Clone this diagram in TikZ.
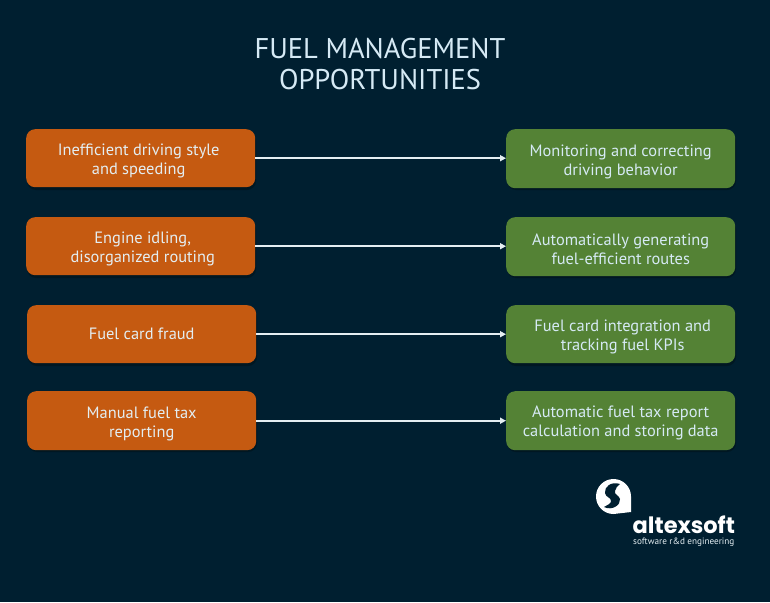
\documentclass[tikz,border=0pt]{standalone}
\usepackage{fontspec}
\setmainfont{PT Sans}
\newfontfamily\logofont{Poppins}
\usetikzlibrary{arrows.meta}
\definecolor{bgc}{HTML}{001F30}
\definecolor{orangebox}{HTML}{C55A11}
\definecolor{greenbox}{HTML}{548235}
\definecolor{shadowc}{HTML}{001722}
\definecolor{txtc}{HTML}{E4EEF2}
\definecolor{titlec}{HTML}{D6EAF5}
\newcommand{\lft}{\rule{0pt}{17.5pt}}
\newcommand{\lfts}{\rule{0pt}{16pt}}
\newcommand{\ndg}{\hspace*{4pt}}
\tikzset{
  x=1pt,y=-1pt,
  card/.style={minimum width=229pt,minimum height=58pt,rounded corners=9pt,inner sep=0pt,align=center,
    text=txtc,font=\fontsize{16.4}{19}\selectfont,anchor=north west},
  oppo/.style={card,fill=orangebox},
  solu/.style={card,fill=greenbox,text=titlec},
  flow/.style={draw=txtc,line width=1.7pt,-{Triangle[length=6pt,width=6pt]}},
  shade/.style={fill=shadowc,rounded corners=9pt},
}
\begin{document}
\begin{tikzpicture}
\useasboundingbox (0,0) rectangle (770,602);
\fill[bgc] (0,0) rectangle (770,602);
\node[text=titlec,align=center,font=\fontsize{28.5}{31}\selectfont] (title) at (380,64) {FUEL MANAGEMENT\\OPPORTUNITIES};
% shadows
\foreach \x/\y in {26/129,26/217,27/305,27/391,506/129,506/217,506/305,506/391}
  \fill[shade] (\x+1,\y+3) rectangle ++(229,58);
\node[oppo] (a1) at (26,129) {\lft Inefficient driving style\ndg\\and speeding\ndg};
\node[oppo] (a2) at (26,217) {\lft\ndg Engine idling,\\\ndg disorganized routing};
\node[oppo] (a3) at (27,305) {Fuel card fraud};
\node[oppo,minimum height=59pt] (a4) at (27,391) {\lft Manual fuel tax\\reporting};
\node[solu,minimum height=59pt] (b1) at (506,129) {\lft Monitoring and correcting\\driving behavior};
\node[solu,minimum height=59pt] (b2) at (506,217) {\lfts Automatically generating\\fuel-efficient routes};
\node[solu] (b3) at (506,305) {\lft\ndg Fuel card integration and\\\ndg tracking fuel KPIs};
\node[solu,minimum height=59pt] (b4) at (506,391) {\lfts Automatic fuel tax report\\calculation and storing data};
\draw[flow] (a1.east) -- (a1.east -| b1.west);
\draw[flow] (a2.east) -- (a2.east -| b2.west);
\draw[flow] (a3.east) -- (a3.east -| b3.west);
\draw[flow] (a4.east) -- (a4.east -| b4.west);
% logo
\fill[white] (631,512) -- (631,496.5) arc[start angle=0,end angle=-270,radius=17.5] -- cycle;
\fill[bgc] (620,484) .. controls (611,481) and (604,487) .. (605,493)
  .. controls (606,498) and (611,497) .. (611,501)
  .. controls (611,504) and (607,505) .. (604,507)
  .. controls (612,511) and (621,505) .. (620,499)
  .. controls (619,495) and (614,495) .. (615,491)
  .. controls (615,488) and (618,486) .. (620,484) -- cycle;
\node[anchor=base west,inner sep=0pt,text=white,text depth=0pt,font=\logofont\bfseries\fontsize{22.5}{24}\selectfont] (logo) at (632.5,533) {altexsoft};
\node[anchor=base west,inner sep=0pt,text=txtc,text height=6pt,text depth=0pt,font=\fontsize{9.2}{10}\selectfont] (sub) at (633,544.5) {software r\&d engineering};
\end{tikzpicture}
\end{document}
